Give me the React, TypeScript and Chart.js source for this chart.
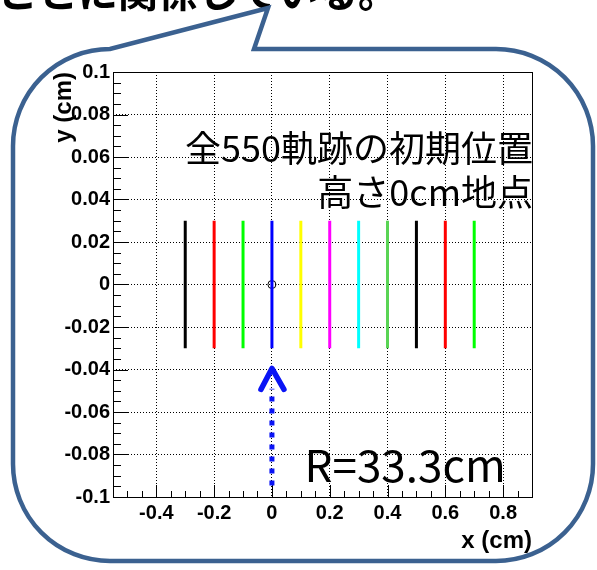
import React, { useEffect, useRef } from "react";
import { Chart, registerables } from "chart.js";

Chart.register(...registerables);

const W = 597;
const H = 570;

// Start positions of the simulated tracks: one vertical segment per x position
const trackX = [-0.3, -0.2, -0.1, 0, 0.1, 0.2, 0.3, 0.4, 0.5, 0.6, 0.7];
const trackColors = [
  "#000000", "#ff0000", "#00ff00", "#0000ff", "#ffff00", "#ff00ff",
  "#00ffff", "#59d454", "#000000", "#ff0000", "#00ff00",
];
const trackYLow = -0.03;
const trackYHigh = 0.03;

// Beam centre marker
const centerPoint = [{ x: 0, y: 0 }];

// Axis ranges and ticks (cm)
const xMin = -0.55;
const xMax = 0.9;
const yMin = -0.1;
const yMax = 0.1;
const xMajorTicks = [-0.4, -0.2, 0, 0.2, 0.4, 0.6, 0.8];
const xTickLabels = ["-0.4", "-0.2", "0", "0.2", "0.4", "0.6", "0.8"];
const yMajorTicks = [-0.1, -0.08, -0.06, -0.04, -0.02, 0, 0.02, 0.04, 0.06, 0.08, 0.1];
const yTickLabels = ["-0.1", "-0.08", "-0.06", "-0.04", "-0.02", "0", "0.02", "0.04", "0.06", "0.08", "0.1"];
const xMinorStep = 0.05;
const yMinorStep = 0.005;

// Annotations
const noteLines = ["全550軌跡の初期位置", "高さ0cm地点"];
const noteY = [0.064, 0.0435];
const radiusLabel = "R=33.3cm";
const radiusLabelPos = { x: 0.113, y: -0.085 };
const arrowX = 0;
const arrowTailY = -0.0946;
const arrowShaftTopY = -0.049;
const arrowTipY = -0.0395;
const caption = "ことに関係している。";

const TICK_FONT = '"Liberation Sans", Arial, sans-serif';
const JP_FONT = '"Noto Sans CJK JP", "Noto Sans", sans-serif';

const slidePlugin = {
  id: "slide",
  beforeDraw(chart: any) {
    const ctx: CanvasRenderingContext2D = chart.ctx;
    ctx.save();
    ctx.fillStyle = "#ffffff";
    ctx.fillRect(0, 0, W, H);

    // caption sentence above the callout
    ctx.fillStyle = "#000000";
    ctx.font = `bold 40px ${JP_FONT}`;
    ctx.textBaseline = "alphabetic";
    ctx.textAlign = "left";
    ctx.fillText(caption, -2, 7);

    // callout balloon
    const r = 97;
    const L = 13, T = 49, R = 593, B = 561;
    ctx.beginPath();
    ctx.moveTo(254, T);
    ctx.lineTo(R - r, T);
    ctx.arcTo(R, T, R, T + r, r);
    ctx.lineTo(R, B - r);
    ctx.arcTo(R, B, R - r, B, r);
    ctx.lineTo(L + r, B);
    ctx.arcTo(L, B, L, B - r, r);
    ctx.lineTo(L, T + r);
    ctx.arcTo(L, T, L + r, T, r);
    ctx.lineTo(268, 8);
    ctx.closePath();
    ctx.fillStyle = "#ffffff";
    ctx.fill();
    ctx.lineJoin = "miter";
    ctx.lineWidth = 4.5;
    ctx.strokeStyle = "#3b6190";
    ctx.stroke();
    ctx.restore();
  },
  beforeDatasetsDraw(chart: any) {
    const ctx: CanvasRenderingContext2D = chart.ctx;
    const { left, right, top, bottom } = chart.chartArea;
    const xs = chart.scales.x;
    const ys = chart.scales.y;
    ctx.save();
    ctx.strokeStyle = "#000000";
    ctx.lineWidth = 1;
    ctx.beginPath();
    // inward tick marks on the bottom axis
    for (let v = xMin; v <= xMax + 1e-9; v += xMinorStep) {
      const px = Math.round(xs.getPixelForValue(v)) + 0.5;
      const major = xMajorTicks.some((t) => Math.abs(t - v) < 1e-6);
      ctx.moveTo(px, bottom);
      ctx.lineTo(px, bottom - (major ? 12 : 6));
    }
    // inward tick marks on the left axis
    for (let v = yMin; v <= yMax + 1e-9; v += yMinorStep) {
      const py = Math.round(ys.getPixelForValue(v)) + 0.5;
      const major = yMajorTicks.some((t) => Math.abs(t - v) < 1e-6);
      ctx.moveTo(left, py);
      ctx.lineTo(left + (major ? 15 : 8), py);
    }
    ctx.stroke();
    // frame
    ctx.strokeRect(Math.round(left) + 0.5, Math.round(top) + 0.5, Math.round(right - left), Math.round(bottom - top));
    ctx.restore();
  },
  afterDatasetsDraw(chart: any) {
    const ctx: CanvasRenderingContext2D = chart.ctx;
    const xs = chart.scales.x;
    const ys = chart.scales.y;
    const { right } = chart.chartArea;
    ctx.save();

    // description text
    ctx.fillStyle = "#000000";
    ctx.font = `36px ${JP_FONT}`;
    ctx.textAlign = "right";
    ctx.textBaseline = "middle";
    noteLines.forEach((t, i) => ctx.fillText(t, right + 1, ys.getPixelForValue(noteY[i])));

    ctx.font = `44px ${JP_FONT}`;
    ctx.textAlign = "left";
    ctx.fillText(radiusLabel, xs.getPixelForValue(radiusLabelPos.x), ys.getPixelForValue(radiusLabelPos.y));

    // dotted arrow pointing at the beam centre
    const ax = xs.getPixelForValue(arrowX);
    const yTail = ys.getPixelForValue(arrowTailY);
    const yShaft = ys.getPixelForValue(arrowShaftTopY);
    const yTip = ys.getPixelForValue(arrowTipY);
    ctx.strokeStyle = "#0a14f5";
    ctx.lineWidth = 5;
    ctx.lineCap = "butt";
    ctx.setLineDash([5, 7]);
    ctx.beginPath();
    ctx.moveTo(ax, yTail);
    ctx.lineTo(ax, yShaft);
    ctx.stroke();
    ctx.setLineDash([]);
    ctx.lineWidth = 5.5;
    ctx.lineCap = "round";
    ctx.lineJoin = "round";
    ctx.beginPath();
    ctx.moveTo(ax - 11, yTip + 21);
    ctx.lineTo(ax, yTip);
    ctx.lineTo(ax + 12, yTip + 21);
    ctx.stroke();
    ctx.restore();
  },
};

export default function App() {
  const canvasRef = useRef<HTMLCanvasElement | null>(null);

  useEffect(() => {
    const canvas = canvasRef.current;
    if (!canvas) return;

    const datasets: any[] = trackX.map((x, i) => ({
      label: `track ${i + 1}`,
      data: [
        { x, y: trackYLow },
        { x, y: trackYHigh },
      ],
      showLine: true,
      borderColor: trackColors[i],
      backgroundColor: trackColors[i],
      borderWidth: 3,
      pointRadius: 0,
      borderCapStyle: "butt",
    }));
    datasets.push({
      label: "center",
      data: centerPoint,
      showLine: false,
      pointStyle: "circle",
      pointRadius: 4,
      borderColor: "#000000",
      backgroundColor: "rgba(0,0,0,0)",
      borderWidth: 1,
    });

    const tickFont = { family: TICK_FONT, weight: "bold" as const, size: 20 };
    const titleFont = { family: TICK_FONT, weight: "bold" as const, size: 24 };

    const chart = new Chart(canvas, {
      type: "scatter",
      data: { datasets },
      plugins: [slidePlugin],
      options: {
        animation: false,
        responsive: false,
        devicePixelRatio: 1,
        layout: { padding: { left: 0, top: 72, right: 65, bottom: 0 } },
        plugins: { legend: { display: false }, tooltip: { enabled: false } },
        scales: {
          x: {
            type: "linear",
            position: "bottom",
            min: xMin,
            max: xMax,
            afterBuildTicks: (axis: any) => {
              axis.ticks = xMajorTicks.map((v) => ({ value: v }));
            },
            afterFit: (axis: any) => {
              axis.height = 73;
            },
            ticks: {
              autoSkip: false,
              maxRotation: 0,
              padding: 4,
              color: "#000000",
              font: tickFont,
              callback: (_v: any, i: number) => xTickLabels[i],
            },
            grid: { drawTicks: false, color: "#000000", lineWidth: 1 },
            border: { display: false, dash: [1, 2] },
            title: {
              display: true,
              text: "x (cm)",
              align: "end",
              color: "#000000",
              font: titleFont,
              padding: { top: 0, bottom: 14 },
            },
          },
          y: {
            type: "linear",
            position: "left",
            min: yMin,
            max: yMax,
            afterBuildTicks: (axis: any) => {
              axis.ticks = yMajorTicks.map((v) => ({ value: v }));
            },
            afterFit: (axis: any) => {
              axis.width = 113;
            },
            ticks: {
              autoSkip: false,
              padding: 3,
              color: "#000000",
              font: tickFont,
              callback: (_v: any, i: number) => yTickLabels[i],
            },
            grid: { drawTicks: false, color: "#000000", lineWidth: 1 },
            border: { display: false, dash: [1, 2] },
            title: {
              display: true,
              text: "y (cm)",
              align: "end",
              color: "#000000",
              font: titleFont,
              padding: { top: 50, bottom: 0 },
            },
          },
        },
      } as any,
    });

    return () => chart.destroy();
  }, []);

  return (
    <div style={{ position: "fixed", left: 0, top: 0, width: W, height: H }}>
      <canvas ref={canvasRef} width={W} height={H} style={{ width: W, height: H, display: "block" }} />
    </div>
  );
}
